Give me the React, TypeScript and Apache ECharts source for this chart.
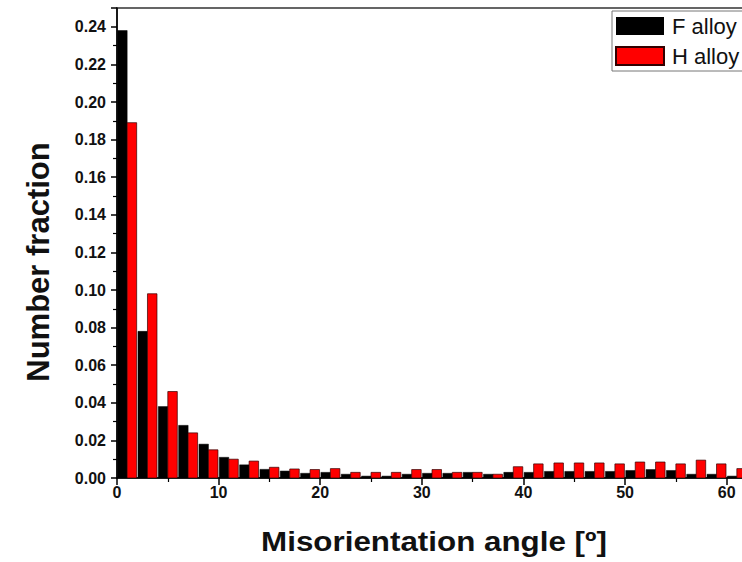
import React, { useEffect, useRef } from "react";
import * as echarts from "echarts";

// Bin centres (degrees), 2° bins
const binCenters = [1, 3, 5, 7, 9, 11, 13, 15, 17, 19, 21, 23, 25, 27, 29, 31, 33, 35, 37, 39, 41, 43, 45, 47, 49, 51, 53, 55, 57, 59, 61];
const fAlloy = [0.238, 0.078, 0.038, 0.028, 0.018, 0.011, 0.007, 0.0046, 0.0037, 0.0025, 0.003, 0.002, 0.001, 0.001, 0.002, 0.0025, 0.0025, 0.003, 0.002, 0.003, 0.003, 0.0035, 0.0035, 0.0035, 0.0035, 0.004, 0.0045, 0.004, 0.002, 0.002, 0.001];
const hAlloy = [0.189, 0.098, 0.046, 0.024, 0.015, 0.01, 0.009, 0.0057, 0.0048, 0.0045, 0.005, 0.003, 0.003, 0.003, 0.0045, 0.0045, 0.003, 0.003, 0.002, 0.006, 0.0075, 0.008, 0.008, 0.008, 0.0075, 0.0085, 0.0085, 0.0075, 0.0095, 0.0075, 0.005];
const seriesNames = ["F alloy", "H alloy"];
const xTitle = "Misorientation angle [º]";
const yTitle = "Number fraction";

const FONT = "'Liberation Sans', Arial, sans-serif";
const BAR_W = 9.5;

function makeRender(side: number, fill: string, stroke: string, lw: number) {
  return (params: any, api: any) => {
    const x = api.value(0);
    const v = api.value(1);
    const top = api.coord([x, v]);
    const base = api.coord([x, 0]);
    const left = side < 0 ? top[0] - BAR_W : top[0];
    return {
      type: "rect",
      shape: { x: left, y: top[1], width: BAR_W, height: base[1] - top[1] },
      style: { fill, stroke, lineWidth: lw },
    };
  };
}

export default function App() {
  const ref = useRef<HTMLDivElement>(null);
  useEffect(() => {
    if (!ref.current) return;
    const chart = echarts.init(ref.current, null, { renderer: "svg" });
    const axisLineStyle = { color: "#000", width: 1.5 };
    chart.setOption({
      animation: false,
      backgroundColor: "#fff",
      grid: {
        left: 117,
        top: 8,
        width: 630,
        height: 470,
        outerBoundsMode: "none",
        containLabel: false,
        show: true,
        borderColor: "#333",
        borderWidth: 1.5,
        backgroundColor: "transparent",
      },
      legend: {
        left: 612,
        top: 11,
        orient: "vertical",
        itemWidth: 48,
        itemHeight: 18,
        itemGap: 8,
        padding: [4, 14, 4, 3],
        borderColor: "#777",
        borderWidth: 1,
        icon: "rect",
        textStyle: { fontFamily: FONT, fontSize: 22, color: "#111", padding: [0, 0, 0, 3] },
        data: seriesNames,
      },
      xAxis: {
        type: "value",
        min: 0,
        max: 62,
        interval: 10,
        axisLine: { show: true, lineStyle: axisLineStyle },
        axisTick: { show: true, inside: false, length: 7, lineStyle: axisLineStyle },
        minorTick: { show: true, splitNumber: 2, length: 4, lineStyle: { color: "#000", width: 1.2 } },
        splitLine: { show: false },
        axisLabel: {
          fontFamily: FONT,
          fontSize: 16,
          fontWeight: "bold",
          color: "#111",
          margin: 6,
          formatter: (v: number) => (v % 10 === 0 ? String(v) : ""),
        },
      },
      yAxis: {
        type: "value",
        min: 0,
        max: 0.25,
        interval: 0.02,
        axisLine: { show: true, lineStyle: axisLineStyle },
        axisTick: { show: true, inside: false, length: 6, lineStyle: axisLineStyle },
        minorTick: { show: true, splitNumber: 2, length: 4, lineStyle: { color: "#000", width: 1.2 } },
        splitLine: { show: false },
        axisLabel: {
          fontFamily: FONT,
          fontSize: 16,
          fontWeight: "bold",
          color: "#111",
          margin: 11,
          formatter: (v: number) => {
            const k = v / 0.02;
            return Math.abs(k - Math.round(k)) < 1e-6 ? v.toFixed(2) : "";
          },
        },
      },
      series: [
        {
          name: seriesNames[0],
          type: "custom",
          clip: true,
          itemStyle: { color: "#000" },
          renderItem: makeRender(-1, "#000", "#000", 0.5),
          encode: { x: 0, y: 1 },
          data: binCenters.map((x, i) => [x, fAlloy[i]]),
        },
        {
          name: seriesNames[1],
          type: "custom",
          clip: true,
          itemStyle: { color: "#ff0000", borderColor: "#300", borderWidth: 0.7 },
          renderItem: makeRender(1, "#ff0000", "#300", 0.7),
          encode: { x: 0, y: 1 },
          data: binCenters.map((x, i) => [x, hAlloy[i]]),
        },
      ],
      graphic: [
        {
          type: "text",
          x: 38,
          y: 262,
          rotation: Math.PI / 2,
          style: { text: yTitle, font: `bold 31px ${FONT}`, fill: "#111", align: "center", verticalAlign: "middle" },
        },
        {
          type: "text",
          x: 434,
          y: 541,
          scaleX: 1.12,
          style: { text: xTitle, font: `bold 28px ${FONT}`, fill: "#111", align: "center", verticalAlign: "middle" },
        },
      ],
    });
    return () => chart.dispose();
  }, []);
  return <div ref={ref} style={{ position: "fixed", left: 0, top: 0, width: 742, height: 562 }} />;
}
